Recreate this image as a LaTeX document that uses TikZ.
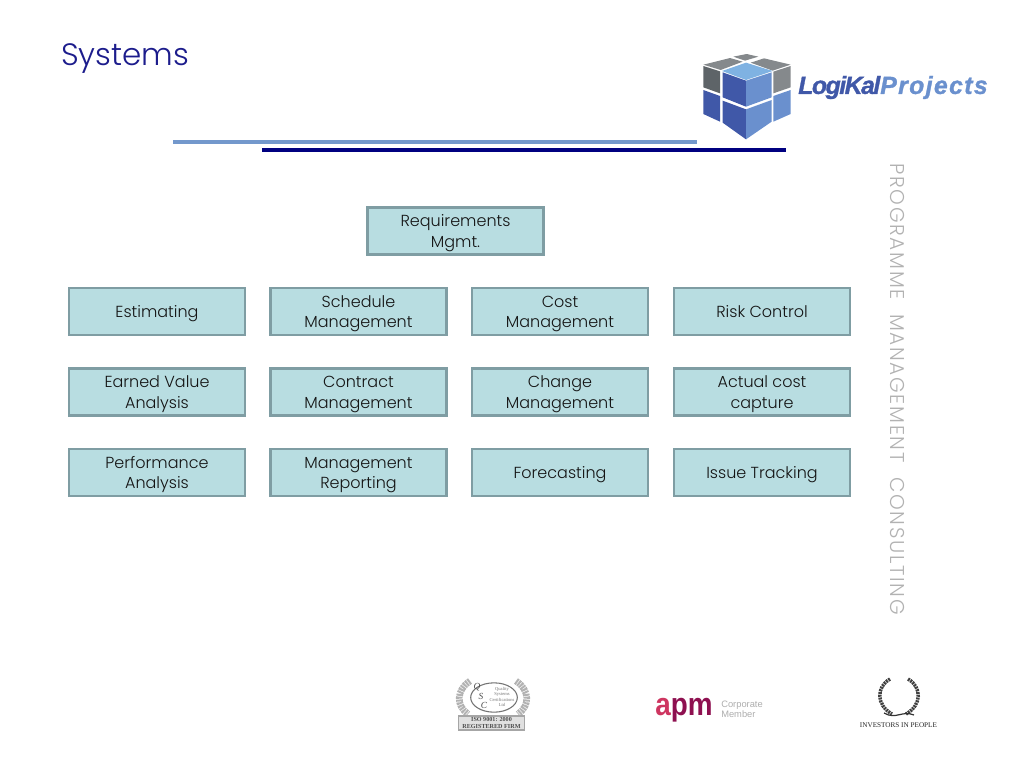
\documentclass[tikz,border=0pt]{standalone}
\usepackage{fontspec}
\usetikzlibrary{shapes.geometric}
\setmainfont{Poppins Light}
\newfontfamily\sidefont[LetterSpace=8.5]{Poppins Light}
\newfontfamily\logofont{Liberation Sans}
\newfontfamily\sealfont{Liberation Serif}
\definecolor{boxfill}{HTML}{B8DDE1}
\definecolor{boxline}{HTML}{7F9DA3}
\definecolor{titleblue}{HTML}{1C1C8C}
\definecolor{barlight}{HTML}{7398CC}
\definecolor{bardark}{HTML}{000080}
\definecolor{cubedark}{HTML}{4058A8}
\definecolor{cubemid}{HTML}{6A90CE}
\definecolor{cubesky}{HTML}{7FB2E2}
\definecolor{cubegray}{HTML}{85898C}
\definecolor{cubeslate}{HTML}{5E6468}
\definecolor{apmred}{HTML}{8E1050}
\definecolor{apmpink}{HTML}{CE3560}
% dos lineas, centradas en la caja
\newcommand{\twolines}[2]{\makebox[0pt]{\raisebox{7.7pt}[0pt][0pt]{#1}}\makebox[0pt]{\raisebox{-7.7pt}[0pt][0pt]{#2}}}
\tikzset{
  sysbox/.style={rectangle, draw=boxline, line width=1.9pt, fill=boxfill, minimum width=132pt, minimum height=35.5pt,
    align=center, text=black!92, font=\fontsize{12}{15.4}\selectfont, inner sep=0pt,
    text height=9pt, text depth=0pt},
  facet/.style={fill=#1, draw=none},
  sealtext/.style={text=black!55, inner sep=0pt, align=center},
  laurel/.style={line width=#1, dash pattern=on 1.5pt off 0.6pt}
}

\begin{document}
\begin{tikzpicture}[x=0.75pt, y=-0.75pt]
\useasboundingbox (0,0) rectangle (1024,768);

% Titulo
\node[text=titleblue, font=\fontsize{23.2}{28}\selectfont, anchor=west, inner sep=0pt] at (61,59) (title) {Systems};

% Barras
\node[rectangle, fill=barlight, minimum width=393pt, minimum height=3.4pt, inner sep=0pt] at (435,142) (barA) {};
\node[rectangle, fill=bardark, minimum width=393pt, minimum height=3.4pt, inner sep=0pt] at (524,150) (barB) {};

% Logo cubo
\begin{scope}[shift={(690,40)}, x=0.25pt, y=-0.25pt]
\fill[facet=cubegray] (130,50) -- (170,42) -- (205,50) -- (165,62) -- cycle;
\fill[facet=cubegray] (40,74) -- (120,54) -- (158,65) -- (92,90) -- cycle;
\fill[facet=cubegray] (182,68) -- (222,55) -- (302,74) -- (248,92) -- cycle;
\fill[facet=cubesky] (96,93) -- (168,68) -- (248,93) -- (168,120) -- cycle;
\fill[facet=cubeslate] (40,78) -- (90,94) -- (90,160) -- (40,142) -- cycle;
\fill[facet=cubedark] (40,150) -- (90,168) -- (90,245) -- (40,222) -- cycle;
\fill[facet=cubedark] (98,97) -- (168,122) -- (168,200) -- (98,172) -- cycle;
\fill[facet=cubedark] (98,182) -- (168,208) -- (168,298) -- (98,248) -- cycle;
\fill[facet=cubemid] (168,122) -- (245,97) -- (245,172) -- (168,200) -- cycle;
\fill[facet=cubemid] (168,208) -- (245,180) -- (245,245) -- (168,298) -- cycle;
\fill[facet=cubegray] (250,95) -- (302,78) -- (302,142) -- (250,160) -- cycle;
\fill[facet=cubemid] (250,168) -- (302,150) -- (302,222) -- (250,245) -- cycle;
\end{scope}
\node[anchor=west, inner sep=0pt, font=\logofont\bfseries\itshape\fontsize{18.6}{20}\selectfont] at (798,87.5) (logik) {\textcolor{cubedark}{\addfontfeature{LetterSpace=-6,FakeBold=1.2}LogiKal}\textcolor{cubemid}{\addfontfeature{LetterSpace=5.5,FakeBold=1.2}Projects}};

% Texto vertical
\node[rotate=-90, text=black!30, font=\sidefont\fontsize{15}{18}\selectfont, inner sep=0pt] at (897,389) (side) {PROGRAMME\ \ MANAGEMENT\ \ CONSULTING};

% Cajas
\node[sysbox] at (455.5,231) (req) {\twolines{Requirements}{Mgmt.}};

\node[sysbox] at (157,311.5) (est) {Estimating};
\node[sysbox] at (358.5,311.5) (sched) {\twolines{Schedule}{Management}};
\node[sysbox] at (560,311.5) (cost) {\twolines{Cost}{Management}};
\node[sysbox] at (762,311.5) (risk) {Risk Control};

\node[sysbox] at (157,392) (earned) {\twolines{Earned Value}{Analysis}};
\node[sysbox] at (358.5,392) (contract) {\twolines{Contract}{Management}};
\node[sysbox] at (560,392) (change) {\twolines{Change}{Management}};
\node[sysbox] at (762,392) (actual) {\twolines{Actual cost}{capture}};

\node[sysbox] at (157,472.5) (perf) {\twolines{Performance}{Analysis}};
\node[sysbox] at (358.5,472.5) (report) {\twolines{Management}{Reporting}};
\node[sysbox] at (560,472.5) (fore) {Forecasting};
\node[sysbox] at (762,472.5) (issue) {Issue Tracking};

% Sello ISO
\draw[laurel=5pt, black!30] (470,681) .. controls (456,690) and (456,706) .. (468,714);
\draw[laurel=5pt, black!30] (516,681) .. controls (530,690) and (530,706) .. (518,714);
\node[rectangle, draw=black!35, fill=black!12, line width=0.8pt, minimum width=50pt, minimum height=10.5pt, inner sep=0pt] at (491.5,723) (isoBase) {};
\node[ellipse, draw=black!55, fill=white, line width=0.8pt, minimum width=35pt, minimum height=22pt, inner sep=0pt] at (494,697.5) (isoSeal) {};
\node[sealtext, font=\sealfont\fontsize{3.4}{4.2}\selectfont] at (502,697) (isoName) {Quality\\Systems\\Certifications\\Ltd};
\node[sealtext, text=black!70, font=\sealfont\itshape\fontsize{7}{7}\selectfont] at (477,687.5) (isoQ) {Q};
\node[sealtext, text=black!70, font=\sealfont\itshape\fontsize{7}{7}\selectfont] at (481,696.5) (isoS) {S};
\node[sealtext, text=black!70, font=\sealfont\itshape\fontsize{7}{7}\selectfont] at (484,705.5) (isoC) {C};
\node[sealtext, text=black!70, font=\sealfont\bfseries\fontsize{4.6}{5}\selectfont] at (491.5,723) (isoText) {ISO 9001: 2000\\REGISTERED FIRM};

% Logo apm
\node[anchor=base west, inner sep=0pt, font=\logofont\bfseries\fontsize{24}{24}\selectfont] at (655,715) (apm) {\scalebox{0.87}[1]{\textcolor{apmpink}{a}\textcolor{apmred}{pm}}};
\node[anchor=west, inner sep=0pt, align=left, text=black!32, font=\logofont\fontsize{7}{7.8}\selectfont] at (721,709) (apmNote) {Corporate\\Member};

% Corona
\draw[laurel=2.6pt, black!75] (890,679) .. controls (876,687) and (876,705) .. (892,714);
\draw[laurel=2.6pt, black!75] (908,679) .. controls (922,687) and (922,705) .. (906,714);
\draw[line width=0.9pt, black!80] (884,713) .. controls (896,720) and (902,710) .. (914,715);
\node[inner sep=0pt, text=black!85, font=\sealfont\fontsize{5.4}{6}\selectfont] at (898.5,725) (iip) {INVESTORS IN PEOPLE};

\end{tikzpicture}
\end{document}
